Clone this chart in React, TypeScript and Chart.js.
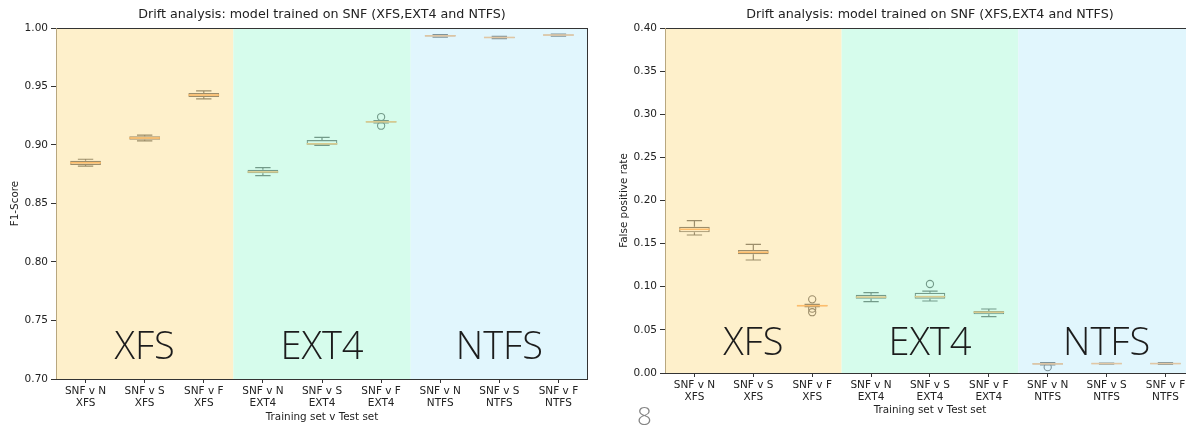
import React, { useEffect, useRef } from 'react';
import { Chart, registerables } from 'chart.js';

Chart.register(...registerables);

// ---------- data ----------
const categories = [
  'SNF v N|XFS', 'SNF v S|XFS', 'SNF v F|XFS',
  'SNF v N|EXT4', 'SNF v S|EXT4', 'SNF v F|EXT4',
  'SNF v N|NTFS', 'SNF v S|NTFS', 'SNF v F|NTFS',
];
const regionNames = ['XFS', 'EXT4', 'NTFS'];
const regionOfCategory = [0, 0, 0, 1, 1, 1, 2, 2, 2];

const chartTitle = 'Drift analysis: model trained on SNF (XFS,EXT4 and NTFS)';
const xAxisTitle = 'Training set v Test set';

// F1-score boxplots
const f1WhiskerLow = [0.8820, 0.9035, 0.9395, 0.8738, 0.8997, 0.9188, 0.9922, 0.9910, 0.9930];
const f1Q1 = [0.8830, 0.9045, 0.9410, 0.8758, 0.9003, 0.9193, 0.9927, 0.9914, 0.9935];
const f1Median = [0.8848, 0.9060, 0.9427, 0.8770, 0.9010, 0.9198, 0.9933, 0.9919, 0.9940];
const f1Q3 = [0.8866, 0.9075, 0.9445, 0.8789, 0.9043, 0.9203, 0.9940, 0.9924, 0.9944];
const f1WhiskerHigh = [0.8878, 0.9085, 0.9462, 0.8806, 0.9066, 0.9208, 0.9944, 0.9928, 0.9948];
const f1Outliers = [[], [], [], [], [], [0.9239, 0.9165], [], [], []];

// False positive rate boxplots
const fprWhiskerLow = [0.1600, 0.1310, 0.0770, 0.0827, 0.0835, 0.0653, 0.0095, 0.0103, 0.0100];
const fprQ1 = [0.1631, 0.1376, 0.0775, 0.0862, 0.0862, 0.0680, 0.0100, 0.0106, 0.0104];
const fprMedian = [0.1666, 0.1400, 0.0780, 0.0880, 0.0885, 0.0705, 0.0106, 0.0109, 0.0109];
const fprQ3 = [0.1696, 0.1426, 0.0788, 0.0908, 0.0931, 0.0719, 0.0112, 0.0112, 0.0114];
const fprWhiskerHigh = [0.1766, 0.1492, 0.0795, 0.0931, 0.0950, 0.0742, 0.0122, 0.0115, 0.0120];
const fprOutliers = [[], [], [0.0854, 0.0746, 0.0705], [], [0.1032], [], [0.0068], [], []];

// ---------- styles ----------
const FONT = "'DejaVu Sans', sans-serif";
const regionBg = ['#fef0cb', '#d6fcec', '#e1f6fd'];
const regionLine = ['#9c8d6a', '#739a89', '#7f949b'];
const regionMedian = ['#fdbd6c', '#d9cb8f', '#e1c7a4'];

type Stats = {
  wl: number[]; q1: number[]; med: number[]; q3: number[]; wh: number[]; out: number[][];
};

type Panel = {
  stats: Stats;
  yTitle: string;
  yMin: number;
  yMax: number;
  yWidth: number;
  yTitlePad: number;
  padRight: number;
  xHeight: number;
  xTitlePadBottom: number;
  regionBaselineOffset: number;
  pageMark?: string;
};

function makePlugin(p: Panel) {
  return {
    id: 'boxExtras',
    beforeDatasetsDraw(chart: any) {
      const { ctx, chartArea } = chart;
      const xs = chart.scales.x;
      const edges = [
        chartArea.left,
        (xs.getPixelForValue(2) + xs.getPixelForValue(3)) / 2,
        (xs.getPixelForValue(5) + xs.getPixelForValue(6)) / 2,
        chartArea.right,
      ];
      ctx.save();
      for (let r = 0; r < 3; r++) {
        ctx.fillStyle = regionBg[r];
        ctx.fillRect(edges[r], chartArea.top, edges[r + 1] - edges[r], chartArea.bottom - chartArea.top);
      }
      ctx.restore();
    },
    afterDatasetsDraw(chart: any) {
      const { ctx, chartArea } = chart;
      const xs = chart.scales.x;
      const ys = chart.scales.y;
      const meta = chart.getDatasetMeta(0);
      const s = p.stats;
      ctx.save();
      // whiskers, caps, medians
      meta.data.forEach((el: any, i: number) => {
        const r = regionOfCategory[i];
        const x = el.x;
        const w = el.width;
        const yq1 = ys.getPixelForValue(s.q1[i]);
        const yq3 = ys.getPixelForValue(s.q3[i]);
        const ywl = ys.getPixelForValue(s.wl[i]);
        const ywh = ys.getPixelForValue(s.wh[i]);
        const ymed = ys.getPixelForValue(s.med[i]);
        ctx.strokeStyle = regionLine[r];
        ctx.lineWidth = 1.2;
        ctx.beginPath();
        ctx.moveTo(x, yq1); ctx.lineTo(x, ywl);
        ctx.moveTo(x, yq3); ctx.lineTo(x, ywh);
        ctx.moveTo(x - w / 4, ywl); ctx.lineTo(x + w / 4, ywl);
        ctx.moveTo(x - w / 4, ywh); ctx.lineTo(x + w / 4, ywh);
        ctx.stroke();
        ctx.strokeStyle = regionMedian[r];
        ctx.lineWidth = 1.6;
        ctx.beginPath();
        ctx.moveTo(x - w / 2, ymed); ctx.lineTo(x + w / 2, ymed);
        ctx.stroke();
      });
      // spines
      ctx.lineWidth = 1;
      ctx.strokeStyle = '#333333';
      ctx.beginPath();
      ctx.moveTo(chartArea.left, chartArea.bottom + 0.5);
      ctx.lineTo(chartArea.right, chartArea.bottom + 0.5);
      ctx.moveTo(chartArea.right - 0.5, chartArea.top);
      ctx.lineTo(chartArea.right - 0.5, chartArea.bottom);
      ctx.moveTo(chartArea.left, chartArea.top + 0.5);
      ctx.lineTo(chartArea.right, chartArea.top + 0.5);
      ctx.stroke();
      ctx.strokeStyle = '#b8a77f';
      ctx.beginPath();
      ctx.moveTo(chartArea.left + 0.5, chartArea.top);
      ctx.lineTo(chartArea.left + 0.5, chartArea.bottom);
      ctx.stroke();
      // region labels
      const centers = [
        (chartArea.left + (xs.getPixelForValue(2) + xs.getPixelForValue(3)) / 2) / 2,
        (xs.getPixelForValue(2) + xs.getPixelForValue(3) + xs.getPixelForValue(5) + xs.getPixelForValue(6)) / 4,
        ((xs.getPixelForValue(5) + xs.getPixelForValue(6)) / 2 + chartArea.right) / 2,
      ];
      ctx.fillStyle = '#1c1c1c';
      ctx.font = "300 38px 'Open Sans', sans-serif";
      ctx.textAlign = 'center';
      ctx.textBaseline = 'alphabetic';
      regionNames.forEach((name, r) => {
        ctx.fillText(name, centers[r], chartArea.bottom - p.regionBaselineOffset);
      });
      // title
      ctx.fillStyle = '#222222';
      ctx.font = `12.7px ${FONT}`;
      ctx.textBaseline = 'middle';
      ctx.fillText(chartTitle, (chartArea.left + chartArea.right) / 2, 15);
      if (p.pageMark) {
        ctx.fillStyle = '#858585';
        ctx.font = "300 26px 'Open Sans', sans-serif";
        ctx.textAlign = 'left';
        ctx.textBaseline = 'alphabetic';
        ctx.fillText(p.pageMark, 37, 425);
      }
      ctx.restore();
    },
  };
}

function BoxChart({ panel, left, width }: { panel: Panel; left: number; width: number }) {
  const ref = useRef<HTMLCanvasElement | null>(null);
  useEffect(() => {
    if (!ref.current) return;
    const s = panel.stats;
    const outlierPoints: { x: string; y: number }[] = [];
    const outlierColors: string[] = [];
    s.out.forEach((vals, i) => {
      vals.forEach((v) => {
        outlierPoints.push({ x: categories[i], y: v });
        outlierColors.push(regionLine[regionOfCategory[i]]);
      });
    });
    const chart = new Chart(ref.current, {
      type: 'bar',
      data: {
        labels: categories,
        datasets: [
          {
            type: 'bar',
            data: categories.map((_, i) => [s.q1[i], s.q3[i]]) as any,
            backgroundColor: 'rgba(0,0,0,0)',
            borderColor: categories.map((_, i) => regionLine[regionOfCategory[i]]),
            borderWidth: 1.2,
            borderSkipped: false,
            barPercentage: 0.52,
            categoryPercentage: 1,
          },
          {
            type: 'scatter',
            data: outlierPoints as any,
            pointRadius: 3.6,
            pointBorderWidth: 1.1,
            pointBackgroundColor: 'rgba(0,0,0,0)',
            pointBorderColor: outlierColors,
            showLine: false,
          } as any,
        ],
      },
      options: {
        animation: false,
        responsive: false,
        maintainAspectRatio: false,
        events: [],
        layout: { padding: { top: 28, right: panel.padRight, left: 0, bottom: 0 } },
        plugins: {
          legend: { display: false },
          tooltip: { enabled: false },
          title: { display: false },
        },
        scales: {
          x: {
            type: 'category',
            offset: true,
            grid: { offset: false, drawOnChartArea: false, drawTicks: true, tickLength: 4, color: '#333333' },
            border: { display: false },
            ticks: {
              autoSkip: false,
              maxRotation: 0,
              minRotation: 0,
              padding: 2,
              color: '#222222',
              font: { family: FONT, size: 10.5, lineHeight: 1.15 },
              callback: function (this: any, value: any) {
                return String(this.getLabelForValue(value)).split('|');
              },
            },
            title: {
              display: true,
              text: xAxisTitle,
              color: '#222222',
              font: { family: FONT, size: 10.4, lineHeight: 1.2 },
              padding: { top: 0, bottom: panel.xTitlePadBottom },
            },
            afterFit: (scale: any) => { scale.height = panel.xHeight; },
          },
          y: {
            min: panel.yMin,
            max: panel.yMax,
            grid: { drawOnChartArea: false, drawTicks: true, tickLength: 5, color: '#333333' },
            border: { display: false },
            ticks: {
              stepSize: 0.05,
              padding: 3,
              color: '#222222',
              font: { family: FONT, size: 10.5 },
              callback: (v: any) => Number(v).toFixed(2),
            },
            title: {
              display: true,
              text: panel.yTitle,
              color: '#222222',
              font: { family: FONT, size: 10.4, lineHeight: 1.2 },
              padding: { top: panel.yTitlePad, bottom: 0 },
            },
            afterFit: (scale: any) => { scale.width = panel.yWidth; },
          },
        },
      },
      plugins: [makePlugin(panel)],
    } as any);
    return () => chart.destroy();
  }, [panel]);
  return (
    <canvas
      ref={ref}
      width={width}
      height={426}
      style={{ position: 'absolute', left, top: 0, width, height: 426, display: 'block' }}
    />
  );
}

const leftPanel: Panel = {
  stats: { wl: f1WhiskerLow, q1: f1Q1, med: f1Median, q3: f1Q3, wh: f1WhiskerHigh, out: f1Outliers },
  yTitle: 'F1-Score',
  yMin: 0.7,
  yMax: 1.0,
  yWidth: 56,
  yTitlePad: 9,
  padRight: 12,
  xHeight: 47,
  xTitlePadBottom: 2,
  regionBaselineOffset: 20,
};

const rightPanel: Panel = {
  stats: { wl: fprWhiskerLow, q1: fprQ1, med: fprMedian, q3: fprQ3, wh: fprWhiskerHigh, out: fprOutliers },
  yTitle: 'False positive rate',
  yMin: 0,
  yMax: 0.4,
  yWidth: 65,
  yTitlePad: 18,
  padRight: 3,
  xHeight: 53,
  xTitlePadBottom: 9,
  regionBaselineOffset: 18,
  pageMark: '8',
};

export default function App() {
  return (
    <div
      style={{
        position: 'fixed',
        left: 0,
        top: 0,
        width: 1186,
        height: 426,
        overflow: 'hidden',
        background: '#ffffff',
      }}
    >
      <BoxChart panel={leftPanel} left={0} width={600} />
      <BoxChart panel={rightPanel} left={600} width={600} />
    </div>
  );
}
